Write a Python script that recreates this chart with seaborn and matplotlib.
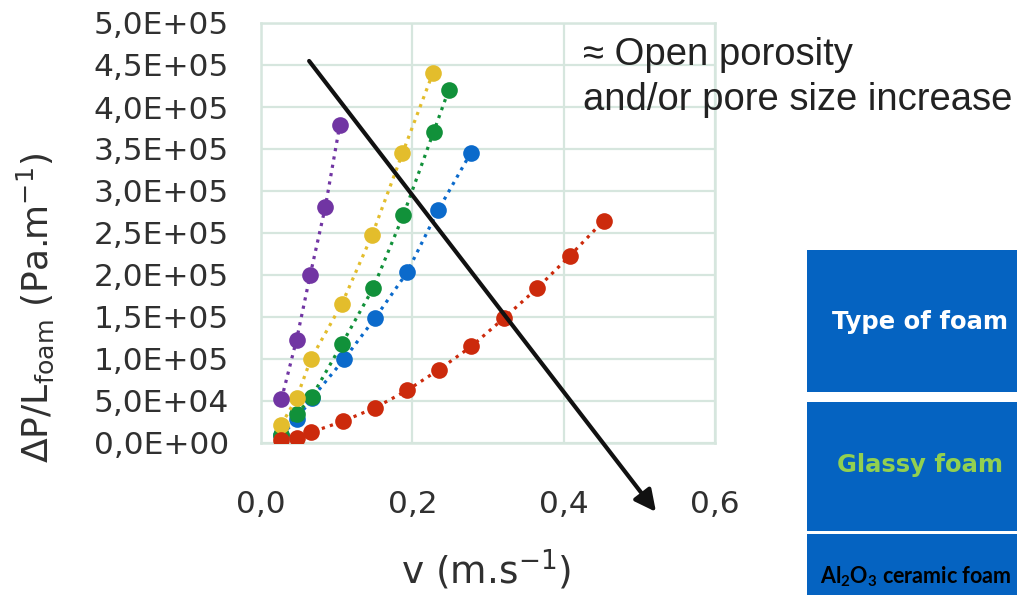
import pandas as pd
import matplotlib
matplotlib.use('Agg')
import matplotlib.pyplot as plt
import matplotlib.ticker as mticker
from matplotlib.patches import Rectangle
import seaborn as sns

# values (v in m/s, dP/L in Pa/m)
purple_v = [0.027, 0.047, 0.065, 0.085, 0.104]
purple_dp = [52000, 123000, 200000, 281000, 378000]

yellow_v = [0.027, 0.047, 0.066, 0.107, 0.147, 0.187, 0.227]
yellow_dp = [22000, 53500, 100000, 166000, 248000, 345000, 440000]

green_v = [0.027, 0.047, 0.067, 0.107, 0.148, 0.188, 0.228, 0.248]
green_dp = [10000, 34000, 55000, 118000, 184000, 271000, 370000, 420000]

blue_v = [0.027, 0.047, 0.067, 0.110, 0.151, 0.193, 0.234, 0.277]
blue_dp = [9000, 28000, 53000, 100000, 149000, 203000, 277000, 345000]

red_v = [0.027, 0.047, 0.066, 0.108, 0.150, 0.193, 0.235, 0.278, 0.321, 0.365, 0.408, 0.453]
red_dp = [3000, 6000, 12700, 25800, 41600, 62600, 87200, 115000, 148600, 184200, 222700, 264700]

# drawing order: last one on top
series = [
    ('blue', blue_v, blue_dp, '#0B6ACB'),
    ('green', green_v, green_dp, '#11913A'),
    ('yellow', yellow_v, yellow_dp, '#E3BD2C'),
    ('purple', purple_v, purple_dp, '#7135A3'),
    ('red', red_v, red_dp, '#CC2A0C'),
]

rows = []
for name, xs, ys, _ in series:
    for x, y in zip(xs, ys):
        rows.append({'serie': name, 'v': x, 'dp': y})
df = pd.DataFrame(rows)

sns.set_style('white')
plt.rcParams['font.family'] = ['DejaVu Sans']
plt.rcParams['font.sans-serif'] = ['DejaVu Sans']
plt.rcParams['mathtext.fontset'] = 'dejavusans'

grid_col = '#D6E6DE'
text_col = '#303030'

fig = plt.figure(figsize=(10.17, 5.95), dpi=100)
ax = fig.add_axes([261 / 1017, 1 - 443 / 595, 454 / 1017, 420 / 595])

for name, xs, ys, col in series:
    sub = df[df['serie'] == name]
    sns.lineplot(data=sub, x='v', y='dp', color=col, sort=False, estimator=None,
                 marker='o', markersize=12, markeredgewidth=0,
                 linestyle=':', linewidth=2.3, ax=ax, legend=False, zorder=3)

ax.set_xlim(0, 0.6)
ax.set_ylim(0, 500000)
ax.set_xticks([0, 0.2, 0.4, 0.6])
ax.set_yticks(range(0, 500001, 50000))
ax.xaxis.set_major_formatter(mticker.FuncFormatter(lambda v, p: f'{v:.1f}'.replace('.', ',')))
ax.yaxis.set_major_formatter(mticker.FuncFormatter(lambda v, p: f'{v:.1E}'.replace('.', ',')))
ax.tick_params(axis='both', length=0, labelsize=22.5, labelcolor=text_col)
ax.tick_params(axis='x', pad=34)
ax.tick_params(axis='y', pad=23)

ax.grid(True, color=grid_col, linewidth=1.6)
ax.set_axisbelow(True)
for sp in ax.spines.values():
    sp.set_color(grid_col)
    sp.set_linewidth(1.8)

ax.set_xlabel(r'v (m.s$^{\mathregular{-1}}$)', fontsize=27, color=text_col)
ax.xaxis.label.set_va('center')
ax.xaxis.set_label_coords(0.496, -0.302)
ax.set_ylabel(r'ΔP/L$_{\mathregular{foam}}$ (Pa.m$^{\mathregular{-1}}$)', fontsize=26, color=text_col)
ax.yaxis.label.set_va('center')
ax.yaxis.set_label_coords(-0.498, 0.321)

# trend arrow
ax.annotate('', xy=(0.522, -82000), xytext=(0.0636, 454800),
            arrowprops=dict(arrowstyle='-|>', lw=3, color='#111111', mutation_scale=32,
                            shrinkA=0, shrinkB=0),
            annotation_clip=False, zorder=5)

fig.text(583 / 1017, 1 - 65 / 595, '≈ Open porosity', fontsize=27.5, color='#222222',
         family=['Liberation Sans', 'DejaVu Sans'], va='baseline', ha='left')
fig.text(583 / 1017, 1 - 110 / 595, 'and/or pore size increase', fontsize=27.5, color='#222222',
         family=['Liberation Sans', 'DejaVu Sans'], va='baseline', ha='left')

# blue table boxes at the right
box_col = '#0563C1'
for top, bottom in [(250, 392), (402, 531), (534, 600)]:
    fig.patches.append(Rectangle((807 / 1017, 1 - bottom / 595), 0.3, (bottom - top) / 595,
                                 transform=fig.transFigure, facecolor=box_col, edgecolor='none'))

fig.text(920 / 1017, 1 - 322 / 595, 'Type of foam', fontsize=17.5, color='white',
         fontweight='bold', ha='center', va='center')
fig.text(920 / 1017, 1 - 465 / 595, 'Glassy foam', fontsize=17.5, color='#92D050',
         fontweight='bold', ha='center', va='center')
fig.text(820 / 1017, 1 - 577 / 595, r'Al$_{\mathregular{2}}$O$_{\mathregular{3}}$ ceramic foam',
         fontsize=15.5, color='black', fontweight='bold', family=['Lato', 'DejaVu Sans'],
         ha='left', va='center')

fig.savefig('out.png', dpi=100)
